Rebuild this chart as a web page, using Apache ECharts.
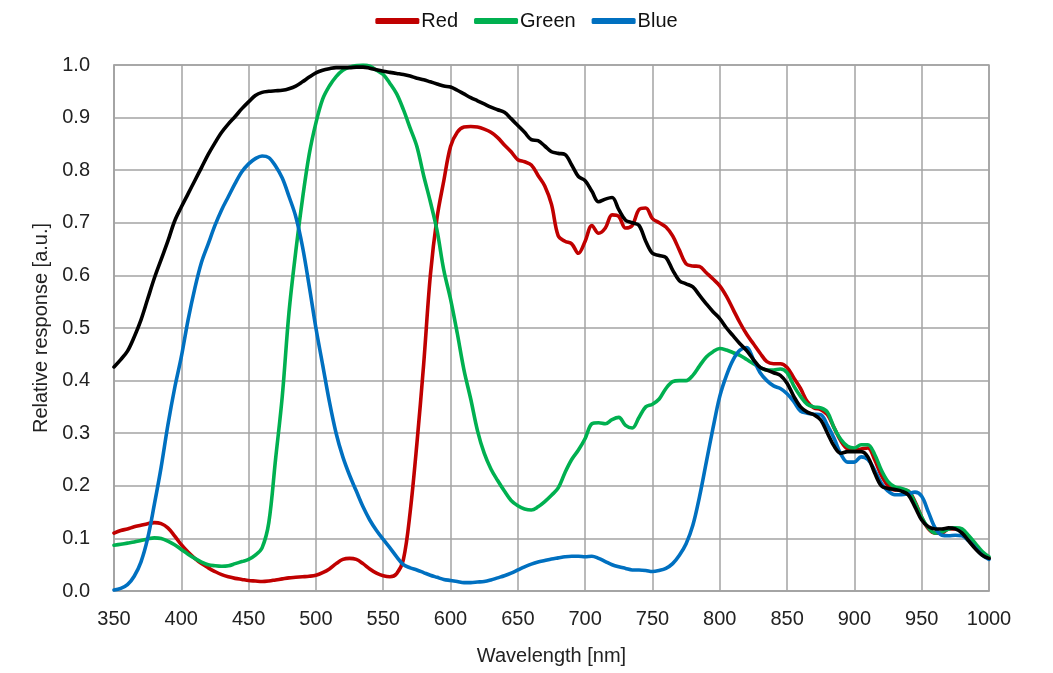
<!DOCTYPE html>
<html>
<head>
<meta charset="utf-8">
<script src="https://cdn.jsdelivr.net/npm/echarts@6/dist/echarts.min.js"></script>
<style>
html,body{margin:0;padding:0;background:#fff;}
#chart{width:1053px;height:673px;}
</style>
</head>
<body>
<div id="chart"></div>
<script>
// Wavelength samples (nm), 350..1000 in 5 nm steps
const wavelengths = [
 350,355,360,365,370,375,380,385,390,395,400,405,410,415,420,425,430,435,440,445,
 450,455,460,465,470,475,480,485,490,495,500,505,510,515,520,525,530,535,540,545,
 550,555,560,565,570,575,580,585,590,595,600,605,610,615,620,625,630,635,640,645,
 650,655,660,665,670,675,680,685,690,695,700,705,710,715,720,725,730,735,740,745,
 750,755,760,765,770,775,780,785,790,795,800,805,810,815,820,825,830,835,840,845,
 850,855,860,865,870,875,880,885,890,895,900,905,910,915,920,925,930,935,940,945,
 950,955,960,965,970,975,980,985,990,995,1000
];

const redValues = [
 0.110,0.115,0.118,0.122,0.125,0.128,0.130,0.128,0.120,0.105,0.088,0.074,0.062,0.052,0.044,0.037,0.031,0.027,0.024,0.022,
 0.020,0.019,0.018,0.019,0.021,0.023,0.025,0.026,0.027,0.028,0.030,0.035,0.042,0.052,0.060,0.062,0.060,0.052,0.042,0.034,
 0.029,0.027,0.033,0.060,0.150,0.280,0.430,0.600,0.710,0.780,0.845,0.872,0.882,0.883,0.882,0.878,0.872,0.862,0.848,0.835,
 0.820,0.816,0.810,0.790,0.770,0.735,0.675,0.665,0.660,0.642,0.665,0.695,0.680,0.690,0.715,0.712,0.690,0.695,0.725,0.728,
 0.708,0.700,0.692,0.675,0.648,0.622,0.618,0.617,0.605,0.593,0.580,0.560,0.535,0.510,0.488,0.470,0.452,0.436,0.432,0.432,
 0.425,0.405,0.385,0.360,0.348,0.345,0.335,0.310,0.285,0.270,0.268,0.270,0.272,0.250,0.220,0.200,0.192,0.192,0.190,0.170,
 0.140,0.118,0.110,0.110,0.118,0.118,0.115,0.100,0.085,0.070,0.062
];

const greenValues = [
 0.087,0.089,0.091,0.093,0.096,0.099,0.101,0.100,0.095,0.088,0.079,0.070,0.062,0.055,0.050,0.048,0.047,0.048,0.052,0.056,
 0.060,0.068,0.082,0.130,0.250,0.370,0.530,0.645,0.745,0.830,0.890,0.935,0.960,0.978,0.990,0.996,0.999,1.000,0.998,0.990,
 0.982,0.965,0.945,0.915,0.880,0.845,0.790,0.740,0.685,0.610,0.555,0.490,0.420,0.365,0.305,0.262,0.232,0.210,0.190,0.172,
 0.162,0.156,0.154,0.160,0.170,0.182,0.196,0.225,0.250,0.268,0.290,0.318,0.320,0.318,0.326,0.330,0.315,0.310,0.330,0.350,
 0.355,0.365,0.385,0.398,0.400,0.400,0.410,0.428,0.445,0.455,0.461,0.458,0.453,0.448,0.440,0.432,0.425,0.420,0.420,0.422,
 0.415,0.390,0.370,0.355,0.350,0.348,0.340,0.310,0.288,0.275,0.272,0.278,0.278,0.260,0.230,0.208,0.198,0.195,0.190,0.168,
 0.140,0.120,0.110,0.112,0.118,0.120,0.118,0.105,0.090,0.075,0.065
];

const blueValues = [
 0.002,0.005,0.012,0.028,0.055,0.100,0.165,0.235,0.315,0.385,0.445,0.515,0.575,0.625,0.660,0.695,0.725,0.750,0.775,0.797,
 0.812,0.822,0.827,0.824,0.808,0.785,0.750,0.712,0.655,0.580,0.500,0.430,0.360,0.300,0.255,0.220,0.190,0.160,0.135,0.115,
 0.098,0.082,0.065,0.050,0.044,0.040,0.035,0.030,0.026,0.022,0.020,0.018,0.016,0.016,0.017,0.018,0.021,0.025,0.029,0.034,
 0.040,0.046,0.051,0.055,0.058,0.061,0.063,0.065,0.066,0.066,0.065,0.066,0.062,0.056,0.050,0.046,0.043,0.040,0.040,0.039,
 0.037,0.039,0.043,0.052,0.068,0.090,0.125,0.180,0.245,0.310,0.370,0.410,0.440,0.458,0.463,0.440,0.415,0.400,0.390,0.385,
 0.375,0.360,0.342,0.338,0.336,0.335,0.315,0.290,0.260,0.245,0.245,0.255,0.250,0.230,0.205,0.190,0.183,0.183,0.185,0.188,
 0.180,0.150,0.120,0.106,0.105,0.106,0.105,0.095,0.082,0.068,0.060
];

const monoValues = [
 0.426,0.440,0.456,0.483,0.515,0.555,0.595,0.630,0.665,0.703,0.730,0.755,0.780,0.805,0.830,0.852,0.872,0.888,0.902,0.917,
 0.930,0.942,0.948,0.950,0.951,0.952,0.955,0.960,0.968,0.977,0.985,0.990,0.993,0.995,0.995,0.995,0.996,0.996,0.994,0.991,
 0.988,0.986,0.984,0.982,0.979,0.975,0.972,0.968,0.964,0.960,0.958,0.952,0.945,0.938,0.932,0.926,0.920,0.915,0.910,0.898,
 0.885,0.872,0.858,0.856,0.846,0.835,0.832,0.830,0.810,0.788,0.780,0.760,0.740,0.745,0.748,0.725,0.705,0.700,0.695,0.665,
 0.642,0.638,0.634,0.610,0.590,0.584,0.578,0.562,0.546,0.531,0.518,0.500,0.485,0.470,0.457,0.440,0.425,0.420,0.415,0.410,
 0.395,0.370,0.350,0.340,0.335,0.325,0.300,0.275,0.262,0.265,0.265,0.265,0.255,0.225,0.200,0.195,0.193,0.190,0.183,0.160,
 0.135,0.122,0.118,0.118,0.120,0.118,0.110,0.095,0.080,0.068,0.062
];

const xTicks = [350,400,450,500,550,600,650,700,750,800,850,900,950,1000];
const yTicks = [0.0,0.1,0.2,0.3,0.4,0.5,0.6,0.7,0.8,0.9,1.0];

const pair = arr => wavelengths.map((w, i) => [w, arr[i]]);
const FONT = "'Liberation Sans', Arial, sans-serif";
const gridColor = '#a3a3a3';

function lineSeries(name, data, color) {
  return {
    name: name,
    type: 'line',
    data: pair(data),
    smooth: 0.35,
    showSymbol: false,
    symbol: 'none',
    lineStyle: { color: color, width: 3.6, cap: 'round', join: 'round' },
    itemStyle: { color: color },
    emphasis: { disabled: true }
  };
}

const chart = echarts.init(document.getElementById('chart'), null, { renderer: 'canvas' });
chart.setOption({
  animation: false,
  backgroundColor: '#ffffff',
  legend: {
    data: ['Red', 'Green', 'Blue'],
    top: 6,
    left: 'center',
    icon: 'roundRect',
    itemWidth: 44,
    itemHeight: 6,
    itemGap: 16,
    textStyle: { fontFamily: FONT, fontSize: 20, color: '#111', padding: [0, 0, 0, -3] }
  },
  grid: {
    left: 114, right: 64, top: 65, bottom: 82,
    show: true, borderColor: gridColor, borderWidth: 1.5
  },
  xAxis: {
    type: 'value',
    min: xTicks[0], max: xTicks[xTicks.length - 1], interval: 50,
    name: 'Wavelength [nm]',
    nameLocation: 'middle',
    nameGap: 55,
    nameTextStyle: { fontFamily: FONT, fontSize: 20, color: '#222' },
    axisLine: { show: true, lineStyle: { color: gridColor, width: 1.5 } },
    axisTick: { show: false },
    axisLabel: { fontFamily: FONT, fontSize: 20, color: '#222', margin: 18,
      formatter: v => String(v) },
    splitLine: { show: true, lineStyle: { color: gridColor, width: 1.5 } }
  },
  yAxis: {
    type: 'value',
    min: yTicks[0], max: yTicks[yTicks.length - 1], interval: 0.1,
    name: 'Relative response [a.u.]',
    nameLocation: 'middle',
    nameGap: 60,
    nameRotate: 90,
    nameTextStyle: { fontFamily: FONT, fontSize: 20, color: '#222' },
    axisLine: { show: true, lineStyle: { color: gridColor, width: 1.5 } },
    axisTick: { show: false },
    axisLabel: { fontFamily: FONT, fontSize: 20, color: '#222', margin: 24,
      formatter: v => v.toFixed(1) },
    splitLine: { show: true, lineStyle: { color: gridColor, width: 1.5 } }
  },
  series: [
    lineSeries('Red', redValues, '#C00000'),
    lineSeries('Green', greenValues, '#00B050'),
    lineSeries('Blue', blueValues, '#0070C0'),
    lineSeries('Mono', monoValues, '#000000')
  ]
});
</script>
</body>
</html>
